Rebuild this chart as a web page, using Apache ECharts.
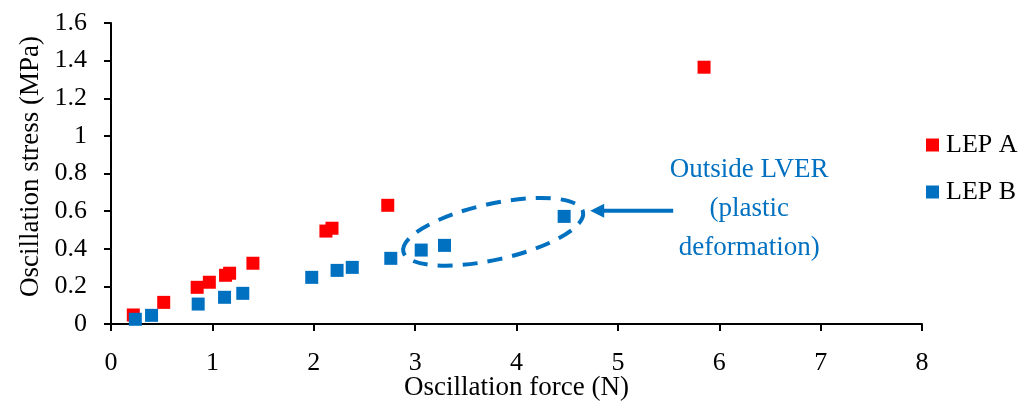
<!DOCTYPE html>
<html>
<head>
<meta charset="utf-8">
<script src="https://cdn.jsdelivr.net/npm/echarts@6/dist/echarts.min.js"></script>
<style>
  html, body { margin: 0; padding: 0; background: #fff; }
  #chart { width: 1033px; height: 403px; }
</style>
</head>
<body>
<div id="chart"></div>
<script>
// Oscillation force (N) vs oscillation stress (MPa) for two samples
const lepA_force  = [0.22, 0.52, 0.85, 0.97, 1.13, 1.17, 1.40, 2.12, 2.18, 2.73, 5.85];
const lepA_stress = [0.048, 0.115, 0.195, 0.222, 0.259, 0.270, 0.323, 0.494, 0.509, 0.631, 1.365];
const lepB_force  = [0.24, 0.40, 0.86, 1.12, 1.30, 1.98, 2.23, 2.38, 2.76, 3.06, 3.29, 4.47];
const lepB_stress = [0.025, 0.046, 0.106, 0.142, 0.163, 0.248, 0.285, 0.301, 0.349, 0.393, 0.418, 0.572];

const xTicks = { min: 0, max: 8, interval: 1 };
const yTicks = { min: 0, max: 1.6, interval: 0.2 };

const seriesNames = ['LEP A', 'LEP B'];
const seriesColors = ['#FF0000', '#0070C0'];

// Highlighted region (plastic deformation), given in data units
const regionCenter = [3.77, 0.49];
const noteLines = ['Outside LVER', '(plastic', 'deformation)'];

const FONT = '"Liberation Serif", "DejaVu Serif", serif';
const BLUE = '#0070C0';

const pairs = (xs, ys) => xs.map((x, i) => [x, ys[i]]);

const chart = echarts.init(document.getElementById('chart'), null, { renderer: 'canvas' });

const axisCommon = {
  axisLine: { show: true, lineStyle: { color: '#000', width: 2 } },
  axisTick: { show: true, inside: false, length: 7, lineStyle: { color: '#000', width: 2 } },
  splitLine: { show: false },
  nameMoveOverlap: false,
  axisLabel: { color: '#000', fontFamily: FONT, fontSize: 26 },
  nameTextStyle: { color: '#000', fontFamily: FONT, fontSize: 27 }
};

chart.setOption({
  backgroundColor: '#fff',
  animation: false,
  grid: { left: 111, right: 111, top: 23, bottom: 79, containLabel: false, outerBoundsMode: 'none' },
  xAxis: Object.assign({}, axisCommon, {
    type: 'value',
    min: xTicks.min, max: xTicks.max, interval: xTicks.interval,
    name: 'Oscillation force (N)',
    nameLocation: 'middle',
    nameGap: 50,
    axisLabel: Object.assign({}, axisCommon.axisLabel, { margin: 26 })
  }),
  yAxis: Object.assign({}, axisCommon, {
    type: 'value',
    min: yTicks.min, max: yTicks.max, interval: yTicks.interval,
    name: 'Oscillation stress (MPa)',
    nameLocation: 'middle',
    nameGap: 67,
    nameTextStyle: Object.assign({}, axisCommon.nameTextStyle, { padding: [0, 0, 0, 14] }),
    axisLabel: Object.assign({}, axisCommon.axisLabel, { margin: 24 })
  }),
  legend: {
    orient: 'vertical',
    left: 926,
    top: 132,
    padding: 0,
    itemWidth: 13,
    itemHeight: 13,
    itemGap: 21,
    icon: 'rect',
    textStyle: { color: '#000', fontFamily: FONT, fontSize: 26, padding: [0, 0, 0, 2] },
    data: seriesNames
  },
  series: [
    {
      name: seriesNames[0],
      type: 'scatter',
      symbol: 'rect',
      symbolSize: 13,
      itemStyle: { color: seriesColors[0], opacity: 1 },
      data: pairs(lepA_force, lepA_stress),
      z: 2
    },
    {
      name: seriesNames[1],
      type: 'scatter',
      symbol: 'rect',
      symbolSize: 13,
      itemStyle: { color: seriesColors[1], opacity: 1 },
      data: pairs(lepB_force, lepB_stress),
      z: 3
    }
  ]
});

// Annotation: dashed ellipse around the outlying points, arrow and note
const c = chart.convertToPixel({ gridIndex: 0 }, regionCenter);
const ellipseRight = c[0] + 90;
const arrowY = c[1] - 21;
const noteX = c[0] + 256;

chart.setOption({
  graphic: [
    {
      type: 'ellipse',
      shape: { cx: c[0], cy: c[1], rx: 92, ry: 28 },
      originX: c[0], originY: c[1],
      rotation: 12.5 * Math.PI / 180,
      style: { fill: 'none', stroke: BLUE, lineWidth: 4, lineDash: [15, 10] },
      z: 10
    },
    {
      type: 'line',
      shape: { x1: ellipseRight + 90, y1: arrowY, x2: ellipseRight + 18, y2: arrowY },
      style: { stroke: BLUE, lineWidth: 4 },
      z: 10
    },
    {
      type: 'polygon',
      shape: { points: [[ellipseRight + 7, arrowY], [ellipseRight + 21, arrowY - 7], [ellipseRight + 21, arrowY + 7]] },
      style: { fill: BLUE },
      z: 10
    }
  ].concat(noteLines.map((t, i) => ({
    type: 'text',
    x: noteX,
    y: c[1] - 62 + i * 39,
    style: {
      text: t,
      fill: BLUE,
      font: '27px ' + FONT,
      textAlign: 'center',
      textVerticalAlign: 'middle'
    },
    z: 10
  })))
});
</script>
</body>
</html>
